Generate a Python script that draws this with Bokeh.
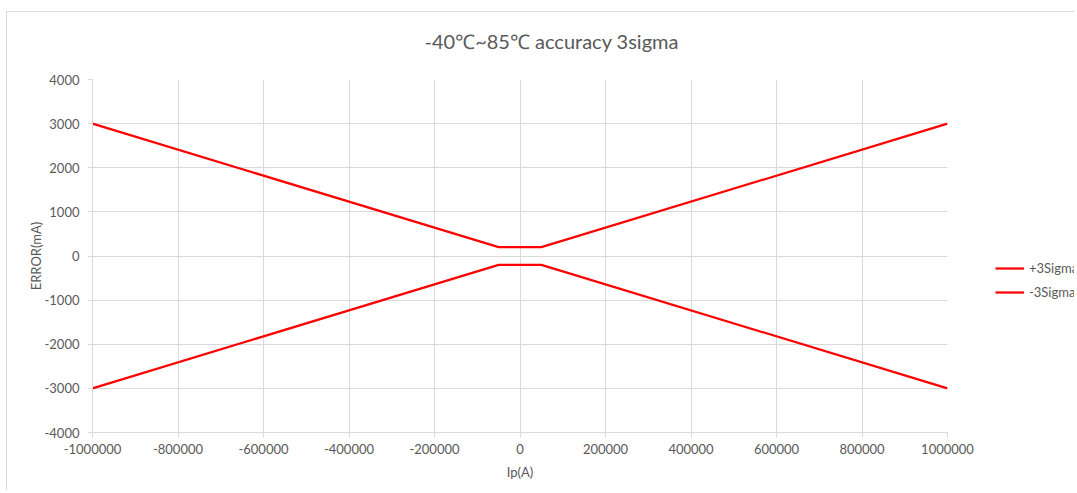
from bokeh.plotting import figure
from bokeh.layouts import row
from bokeh.models import FixedTicker, NumeralTickFormatter, Legend, LegendItem, Range1d
from bokeh.embed import file_html
from bokeh.resources import INLINE

# data
ip_values = [-1000000, -50000, 50000, 1000000]
plus_3sigma = [3000, 200, 200, 3000]
minus_3sigma = [-3000, -200, -200, -3000]
x_ticks = [-1000000, -800000, -600000, -400000, -200000, 0, 200000, 400000, 600000, 800000, 1000000]
y_ticks = [-4000, -3000, -2000, -1000, 0, 1000, 2000, 3000, 4000]
title_text = "-40\u2103~85\u2103 accuracy 3sigma"
series_names = ["+3Sigma", "-3Sigma"]

FONT = "Lato"
GRAY = "#595959"
GRID = "#d9d9d9"
RED = "#ff0000"

p = figure(width=988, height=490, output_backend="svg", toolbar_location=None,
           x_range=Range1d(-1000000, 1000000), y_range=Range1d(-4000, 4000),
           min_border_left=86, min_border_right=47, min_border_top=79, min_border_bottom=58)

p.title.text = title_text
p.title.align = "left"
p.title.offset = 332
p.title.text_font = FONT
p.title.text_font_size = "20px"
p.title.text_font_style = "normal"
p.title.text_color = GRAY
p.title.standoff = 49
p.title.vertical_align = "top"

p.outline_line_color = None
p.background_fill_color = "white"
p.border_fill_color = None

for ax in (p.xaxis[0], p.yaxis[0]):
    ax.axis_line_color = GRID
    ax.major_tick_line_color = GRID
    ax.major_tick_in = 0
    ax.major_tick_out = 5
    ax.minor_tick_line_color = None
    ax.major_label_text_font = FONT
    ax.major_label_text_font_size = "13px"
    ax.major_label_text_color = GRAY
    ax.axis_label_text_font = FONT
    ax.axis_label_text_font_size = "13px"
    ax.axis_label_text_font_style = "normal"
    ax.axis_label_text_color = GRAY
    ax.formatter = NumeralTickFormatter(format="0")

p.xaxis[0].ticker = FixedTicker(ticks=x_ticks)
p.yaxis[0].ticker = FixedTicker(ticks=y_ticks)
p.xaxis[0].axis_label = "Ip(A)"
p.yaxis[0].axis_label = "ERROR(mA)"
p.xaxis[0].major_label_standoff = 6
p.yaxis[0].major_label_standoff = 8
p.xaxis[0].axis_label_standoff = 7
p.yaxis[0].axis_label_standoff = -2

p.xgrid.ticker = FixedTicker(ticks=x_ticks)
p.ygrid.ticker = FixedTicker(ticks=y_ticks)
p.xgrid.grid_line_color = GRID
p.ygrid.grid_line_color = GRID

p.line(ip_values, plus_3sigma, line_color=RED, line_width=2.25)
p.line(ip_values, minus_3sigma, line_color=RED, line_width=2.25)

# legend panel (separate small figure so the legend is not clipped by the plot frame)
lf = figure(width=80, height=490, output_backend="svg", toolbar_location=None,
            x_axis_type=None, y_axis_type=None, x_range=Range1d(0, 1), y_range=Range1d(0, 1),
            min_border=0, min_border_left=0, min_border_right=0, min_border_top=0, min_border_bottom=0)
lf.outline_line_color = None
lf.xgrid.visible = False
lf.ygrid.visible = False
lf.border_fill_color = None
lf.background_fill_color = None
k1 = lf.line(ip_values, plus_3sigma, line_color=RED, line_width=2.25, visible=False)
k2 = lf.line(ip_values, minus_3sigma, line_color=RED, line_width=2.25, visible=False)
legend = Legend(items=[LegendItem(label=series_names[0], renderers=[k1]),
                       LegendItem(label=series_names[1], renderers=[k2])],
                location=(1, 130), padding=0, margin=0, spacing=4,
                glyph_width=29, glyph_height=20, label_standoff=5,
                border_line_color=None, background_fill_alpha=0,
                label_text_font=FONT, label_text_font_size="13px", label_text_color=GRAY)
lf.add_layout(legend, "center")

layout = row(p, lf, spacing=0)
layout.styles = {
    "margin-left": "6px",
    "background-color": "white",
    "background-image": "linear-gradient(#d9d9d9, #d9d9d9), linear-gradient(#d9d9d9, #d9d9d9)",
    "background-size": "100% 1px, 1px 100%",
    "background-position": "0 11px, 0 11px",
    "background-repeat": "no-repeat",
}

open("out.html", "w").write(file_html(layout, INLINE))
